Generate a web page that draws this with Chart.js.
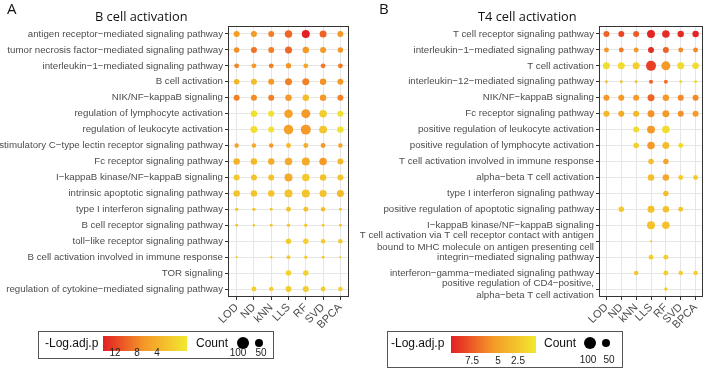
<!DOCTYPE html>
<html>
<head>
<meta charset="utf-8">
<script src="https://cdn.jsdelivr.net/npm/chart.js@4.4.1/dist/chart.umd.min.js"></script>
<style>
  body { margin: 0; background: #fff; }
  #wrap { position: relative; width: 708px; height: 369px; overflow: hidden; font-family: "Liberation Sans", Arial, sans-serif; }
  canvas { position: absolute; top: 0; }
  .txt { position: absolute; white-space: nowrap; line-height: 1; }
  .panel-tag { font-family: "Open Sans", sans-serif; font-size: 15px; color: #111; }
  .panel-title { font-family: "Open Sans", sans-serif; font-size: 12.8px; color: #111; }
  .lg-box { position: absolute; border: 1px solid #555; box-sizing: border-box; }
  .lg-bar { position: absolute; background: linear-gradient(to right, #e31e24, #f59a28, #f2e830); }
  .lg-dot { position: absolute; background: #000; border-radius: 50%; }
  .lg-txt { position: absolute; white-space: nowrap; line-height: 1; color: #111; font-size: 12px; }
  .lg-num { position: absolute; white-space: nowrap; line-height: 1; color: #222; font-size: 10px; transform: translateX(-50%); }
</style>
</head>
<body>
<div id="wrap">
  <canvas id="chartA" width="354" height="369" style="left:0"></canvas>
  <canvas id="chartB" width="354" height="369" style="left:354px"></canvas>

  <div class="txt panel-tag" style="left:7px;top:1px">A</div>
  <div class="txt panel-title" style="left:95px;top:10px">B cell activation</div>
  <div class="txt panel-tag" style="left:379px;top:1px">B</div>
  <div class="txt panel-title" style="left:478px;top:10px">T4 cell activation</div>

  <!-- legend A -->
  <div class="lg-box" style="left:38px;top:331px;width:236px;height:28px"></div>
  <div class="lg-txt" style="left:45px;top:337px">-Log.adj.p</div>
  <div class="lg-bar" style="left:103px;top:336px;width:84px;height:15px"></div>
  <div class="lg-num" style="left:115px;top:348px">12</div>
  <div class="lg-num" style="left:137px;top:348px">8</div>
  <div class="lg-num" style="left:157px;top:348px">4</div>
  <div class="lg-txt" style="left:196px;top:337px">Count</div>
  <div class="lg-dot" style="left:237px;top:337px;width:12px;height:12px"></div>
  <div class="lg-dot" style="left:255px;top:339px;width:8px;height:8px"></div>
  <div class="lg-num" style="left:238px;top:348px">100</div>
  <div class="lg-num" style="left:261px;top:348px">50</div>

  <!-- legend B -->
  <div class="lg-box" style="left:387px;top:331px;width:236px;height:37px"></div>
  <div class="lg-txt" style="left:391px;top:337px">-Log.adj.p</div>
  <div class="lg-bar" style="left:451px;top:336px;width:85px;height:17px"></div>
  <div class="lg-num" style="left:472px;top:356px">7.5</div>
  <div class="lg-num" style="left:498px;top:356px">5</div>
  <div class="lg-num" style="left:518px;top:356px">2.5</div>
  <div class="lg-txt" style="left:544px;top:337px">Count</div>
  <div class="lg-dot" style="left:584px;top:337px;width:12px;height:12px"></div>
  <div class="lg-dot" style="left:602px;top:339px;width:8px;height:8px"></div>
  <div class="lg-num" style="left:588px;top:355px">100</div>
  <div class="lg-num" style="left:609px;top:355px">50</div>
</div>

<script>
// imputation methods (x axis)
const methods = ['LOD', 'ND', 'kNN', 'LLS', 'RF', 'SVD', 'BPCA'];

// panel A: B cell activation
const bTerms = [
  'antigen receptor−mediated signaling pathway',
  'tumor necrosis factor−mediated signaling pathway',
  'interleukin−1−mediated signaling pathway',
  'B cell activation',
  'NIK/NF−kappaB signaling',
  'regulation of lymphocyte activation',
  'regulation of leukocyte activation',
  'stimulatory C−type lectin receptor signaling pathway',
  'Fc receptor signaling pathway',
  'I−kappaB kinase/NF−kappaB signaling',
  'intrinsic apoptotic signaling pathway',
  'type I interferon signaling pathway',
  'B cell receptor signaling pathway',
  'toll−like receptor signaling pathway',
  'B cell activation involved in immune response',
  'TOR signaling',
  'regulation of cytokine−mediated signaling pathway'
];
const bCounts = [
  [25, 25, 25, 39, 44, 34, 25],
  [21, 25, 25, 34, 29, 25, 21],
  [17, 17, 17, 21, 17, 17, 17],
  [21, 25, 25, 34, 34, 29, 25],
  [25, 25, 25, 29, 29, 29, 25],
  [null, 29, 25, 50, 56, 39, 25],
  [null, 34, 25, 63, 69, 44, 29],
  [14, 14, 14, 17, 17, 17, 14],
  [29, 29, 29, 39, 44, 39, 25],
  [25, 25, 25, 44, 39, 29, 25],
  [29, 29, 29, 44, 44, 34, 34],
  [8, 8, 6, 17, 17, 14, 6],
  [6, 4, 6, 8, 8, 6, 6],
  [null, null, null, 21, 21, 14, 14],
  [3, null, 4, 11, 8, 6, 3],
  [null, null, null, 21, 21, null, null],
  [null, 17, 14, 25, 25, 17, 14]
];
const bLogP = [
  [8.0, 8.3, 9.6, 11.0, 15.0, 11.2, 8.3],
  [8.8, 10.3, 9.6, 11.0, 8.3, 8.3, 8.3],
  [9.3, 8.3, 9.6, 8.5, 7.2, 10.0, 10.0],
  [5.8, 5.2, 8.3, 9.6, 9.6, 8.6, 8.3],
  [9.6, 9.0, 9.6, 8.3, 5.2, 8.3, 9.6],
  [null, 2.2, 2.2, 7.6, 8.3, 3.8, 2.2],
  [null, 2.4, 2.2, 7.6, 8.3, 4.4, 2.2],
  [7.6, 6.9, 8.3, 5.5, 6.9, 8.3, 7.6],
  [6.2, 5.5, 6.6, 6.9, 6.9, 8.3, 5.5],
  [4.2, 4.6, 4.8, 6.9, 4.2, 4.8, 4.8],
  [4.8, 4.6, 4.8, 4.8, 4.6, 4.8, 5.5],
  [4.6, 4.6, 4.6, 4.8, 4.8, 5.2, 4.6],
  [4.4, 4.4, 4.4, 4.4, 4.2, 4.2, 4.4],
  [null, null, null, 4.0, 3.6, 4.2, 4.2],
  [4.0, null, 4.0, 4.2, 4.0, 4.2, 3.6],
  [null, null, null, 3.4, 3.4, null, null],
  [null, 3.6, 3.8, 3.8, 3.8, 3.8, 3.8]
];

// panel B: T4 cell activation
const tTerms = [
  'T cell receptor signaling pathway',
  'interleukin−1−mediated signaling pathway',
  'T cell activation',
  'interleukin−12−mediated signaling pathway',
  'NIK/NF−kappaB signaling',
  'Fc receptor signaling pathway',
  'positive regulation of leukocyte activation',
  'positive regulation of lymphocyte activation',
  'T cell activation involved in immune response',
  'alpha−beta T cell activation',
  'type I interferon signaling pathway',
  'positive regulation of apoptotic signaling pathway',
  'I−kappaB kinase/NF−kappaB signaling',
  ['T cell activation via T cell receptor contact with antigen', 'bound to MHC molecule on antigen presenting cell'],
  'integrin−mediated signaling pathway',
  'interferon−gamma−mediated signaling pathway',
  ['positive regulation of CD4−positive,', 'alpha−beta T cell activation']
];
const tCounts = [
  [25, 25, 25, 44, 39, 29, 29],
  [17, 17, 17, 25, 25, 17, 17],
  [34, 34, 34, 69, 56, 34, 29],
  [6, 6, 6, 11, 11, 6, 6],
  [25, 25, 25, 34, 29, 25, 25],
  [25, 25, 25, 34, 34, 25, 25],
  [null, null, 25, 44, 39, null, null],
  [null, null, 21, 39, 34, 17, null],
  [null, null, null, 21, 21, null, null],
  [null, null, null, 29, 29, 17, 17],
  [null, null, null, null, 21, null, null],
  [null, 21, null, 34, 29, 17, null],
  [null, null, null, 44, 39, null, null],
  [null, null, null, 3, null, null, null],
  [null, null, null, 17, 17, null, null],
  [null, null, 14, null, 17, 14, 14],
  [null, null, null, null, 8, null, null]
];
const tLogP = [
  [7.0, 8.0, 7.2, 9.3, 9.0, 9.0, 9.3],
  [5.0, 6.2, 5.0, 9.0, 7.0, 5.6, 5.6],
  [1.2, 1.2, 2.0, 8.3, 5.0, 1.3, 1.3],
  [2.6, 2.6, 2.6, 7.0, 6.5, 1.5, 1.5],
  [5.0, 5.0, 4.8, 7.0, 5.0, 5.6, 5.6],
  [3.3, 4.0, 3.3, 5.3, 5.0, 5.3, 5.0],
  [null, null, 1.2, 5.0, 1.2, null, null],
  [null, null, 2.0, 5.0, 3.0, 1.3, null],
  [null, null, null, 3.0, 4.5, null, null],
  [null, null, null, 3.0, 4.2, 2.2, 2.2],
  [null, null, null, null, 3.0, null, null],
  [null, 2.3, null, 2.8, 2.8, 2.6, null],
  [null, null, null, 2.8, 2.8, null, null],
  [null, null, null, 2.6, null, null, null],
  [null, null, null, 2.0, 2.0, null, null],
  [null, null, 2.6, null, 2.0, 2.0, 2.0],
  [null, null, null, null, 2.0, null, null]
];

// yellow -> orange -> red
function heat(v, lo, hi) {
  let t = Math.max(0, Math.min(1, (v - lo) / (hi - lo)));
  const a = t < 0.5 ? [242, 232, 48] : [245, 154, 40];
  const b = t < 0.5 ? [245, 154, 40] : [227, 30, 36];
  const f = t < 0.5 ? t / 0.5 : (t - 0.5) / 0.5;
  const c = a.map((x, i) => Math.round(x + (b[i] - x) * f));
  return `rgb(${c[0]},${c[1]},${c[2]})`;
}

// ggplot-like panel frame
const panelBorder = {
  id: 'panelBorder',
  afterDraw(chart) {
    const { ctx, chartArea: a } = chart;
    ctx.save();
    ctx.strokeStyle = '#333';
    ctx.lineWidth = 1;
    ctx.strokeRect(Math.round(a.left) + 0.5, Math.round(a.top) + 0.5,
      Math.round(a.right - a.left) - 1, Math.round(a.bottom - a.top) - 1);
    ctx.restore();
  }
};

function makePanel(id, terms, counts, logp, lo, hi, axisWidth, rightPad) {
  const pts = [];
  const cols = [];
  terms.forEach((term, i) => {
    methods.forEach((m, j) => {
      const n = counts[i][j];
      if (n == null) return;
      pts.push({ x: j, y: i, r: 0.6 * Math.sqrt(n) });
      cols.push(heat(logp[i][j], lo, hi));
    });
  });
  const family = '"Liberation Sans", Arial, sans-serif';
  return new Chart(document.getElementById(id), {
    type: 'bubble',
    data: {
      datasets: [{
        data: pts,
        backgroundColor: cols,
        borderWidth: 0,
        hoverBorderWidth: 0
      }]
    },
    options: {
      responsive: false,
      animation: false,
      devicePixelRatio: 1,
      layout: { padding: { top: 26, right: rightPad, left: 0, bottom: 0 } },
      plugins: { legend: { display: false }, tooltip: { enabled: false } },
      scales: {
        x: {
          type: 'linear',
          min: -0.5,
          max: methods.length - 0.5,
          afterBuildTicks: (s) => { s.ticks = methods.map((_, i) => ({ value: i })); },
          afterFit: (s) => { s.height = 72; },
          grid: { color: '#e6e6e6', lineWidth: 1, drawTicks: true, tickLength: 3, tickColor: '#333' },
          border: { display: false },
          ticks: {
            autoSkip: false,
            minRotation: 45,
            maxRotation: 45,
            padding: 1,
            color: '#4d4d4d',
            font: { family, size: 11 },
            callback: (v) => methods[v]
          }
        },
        y: {
          type: 'linear',
          reverse: true,
          min: -0.5,
          max: terms.length - 0.5,
          afterBuildTicks: (s) => { s.ticks = terms.map((_, i) => ({ value: i })); },
          afterFit: (s) => { s.width = axisWidth; },
          grid: { color: '#e6e6e6', lineWidth: 1, drawTicks: true, tickLength: 3, tickColor: '#333' },
          border: { display: false },
          ticks: {
            autoSkip: false,
            padding: 2,
            color: '#4d4d4d',
            font: { family, size: 9.7, lineHeight: 1.2 },
            callback: (v) => terms[v]
          }
        }
      }
    },
    plugins: [panelBorder]
  });
}

makePanel('chartA', bTerms, bCounts, bLogP, 1.5, 15, 228, 3);
makePanel('chartB', tTerms, tCounts, tLogP, 0.5, 9.5, 245, 2);
</script>
</body>
</html>
